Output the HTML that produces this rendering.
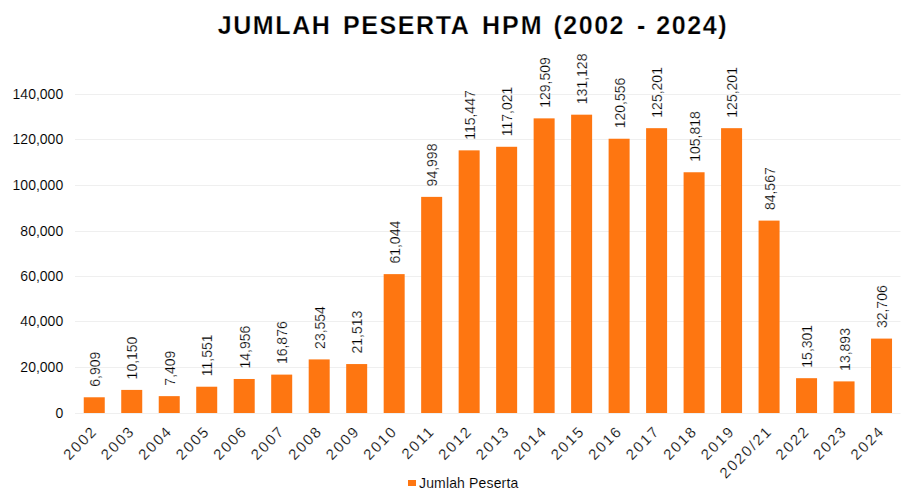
<!DOCTYPE html><html><head><meta charset="utf-8"><style>html,body{margin:0;padding:0;background:#fff;}svg{display:block;}text{font-family:"Liberation Sans",sans-serif;}.h{stroke:#fff;stroke-width:0.1px;}.r{stroke:#fff;stroke-width:0.2px;}.t{stroke:#fff;stroke-width:0.25px;}</style></head><body>
<svg width="919" height="504" viewBox="0 0 919 504">
<rect width="919" height="504" fill="#fff"/>
<line x1="75" x2="900.5" y1="94.50" y2="94.50" stroke="#efefef" stroke-width="1"/>
<line x1="75" x2="900.5" y1="139.50" y2="139.50" stroke="#efefef" stroke-width="1"/>
<line x1="75" x2="900.5" y1="185.50" y2="185.50" stroke="#efefef" stroke-width="1"/>
<line x1="75" x2="900.5" y1="231.50" y2="231.50" stroke="#efefef" stroke-width="1"/>
<line x1="75" x2="900.5" y1="276.50" y2="276.50" stroke="#efefef" stroke-width="1"/>
<line x1="75" x2="900.5" y1="321.50" y2="321.50" stroke="#efefef" stroke-width="1"/>
<line x1="75" x2="900.5" y1="367.50" y2="367.50" stroke="#efefef" stroke-width="1"/>
<line x1="75" x2="900.5" y1="413.50" y2="413.50" stroke="#efefef" stroke-width="1"/>
<text class="h" x="63.2" y="98.60" font-size="14" text-anchor="end" letter-spacing="0" fill="#000">140,000</text>
<text class="h" x="63.2" y="143.60" font-size="14" text-anchor="end" letter-spacing="0" fill="#000">120,000</text>
<text class="h" x="63.2" y="189.60" font-size="14" text-anchor="end" letter-spacing="0" fill="#000">100,000</text>
<text class="h" x="63.2" y="235.60" font-size="14" text-anchor="end" letter-spacing="0" fill="#000">80,000</text>
<text class="h" x="63.2" y="280.60" font-size="14" text-anchor="end" letter-spacing="0" fill="#000">60,000</text>
<text class="h" x="63.2" y="325.60" font-size="14" text-anchor="end" letter-spacing="0" fill="#000">40,000</text>
<text class="h" x="63.2" y="371.60" font-size="14" text-anchor="end" letter-spacing="0" fill="#000">20,000</text>
<text class="h" x="63.2" y="417.60" font-size="14" text-anchor="end" letter-spacing="0" fill="#000">0</text>
<rect x="83.75" y="397.28" width="21.0" height="15.72" fill="#fe7611"/>
<rect x="121.24" y="389.91" width="21.0" height="23.09" fill="#fe7611"/>
<rect x="158.73" y="396.14" width="21.0" height="16.86" fill="#fe7611"/>
<rect x="196.22" y="386.72" width="21.0" height="26.28" fill="#fe7611"/>
<rect x="233.71" y="378.98" width="21.0" height="34.02" fill="#fe7611"/>
<rect x="271.20" y="374.61" width="21.0" height="38.39" fill="#fe7611"/>
<rect x="308.69" y="359.41" width="21.0" height="53.59" fill="#fe7611"/>
<rect x="346.18" y="364.06" width="21.0" height="48.94" fill="#fe7611"/>
<rect x="383.67" y="274.12" width="21.0" height="138.88" fill="#fe7611"/>
<rect x="421.16" y="196.88" width="21.0" height="216.12" fill="#fe7611"/>
<rect x="458.65" y="150.36" width="21.0" height="262.64" fill="#fe7611"/>
<rect x="496.14" y="146.78" width="21.0" height="266.22" fill="#fe7611"/>
<rect x="533.63" y="118.37" width="21.0" height="294.63" fill="#fe7611"/>
<rect x="571.12" y="114.68" width="21.0" height="298.32" fill="#fe7611"/>
<rect x="608.61" y="138.74" width="21.0" height="274.26" fill="#fe7611"/>
<rect x="646.10" y="128.17" width="21.0" height="284.83" fill="#fe7611"/>
<rect x="683.59" y="172.26" width="21.0" height="240.74" fill="#fe7611"/>
<rect x="721.08" y="128.17" width="21.0" height="284.83" fill="#fe7611"/>
<rect x="758.57" y="220.61" width="21.0" height="192.39" fill="#fe7611"/>
<rect x="796.06" y="378.19" width="21.0" height="34.81" fill="#fe7611"/>
<rect x="833.55" y="381.39" width="21.0" height="31.61" fill="#fe7611"/>
<rect x="871.04" y="338.59" width="21.0" height="74.41" fill="#fe7611"/>
<text class="r" transform="translate(99.85,386.78) rotate(-90)" font-size="14" fill="#000">6,909</text>
<text class="r" transform="translate(137.34,379.41) rotate(-90)" font-size="14" fill="#000">10,150</text>
<text class="r" transform="translate(174.83,385.64) rotate(-90)" font-size="14" fill="#000">7,409</text>
<text class="r" transform="translate(212.32,376.22) rotate(-90)" font-size="14" fill="#000">11,551</text>
<text class="r" transform="translate(249.81,368.48) rotate(-90)" font-size="14" fill="#000">14,956</text>
<text class="r" transform="translate(287.30,364.11) rotate(-90)" font-size="14" fill="#000">16,876</text>
<text class="r" transform="translate(324.79,348.91) rotate(-90)" font-size="14" fill="#000">23,554</text>
<text class="r" transform="translate(362.28,353.56) rotate(-90)" font-size="14" fill="#000">21,513</text>
<text class="r" transform="translate(399.77,263.62) rotate(-90)" font-size="14" fill="#000">61,044</text>
<text class="r" transform="translate(437.26,186.38) rotate(-90)" font-size="14" fill="#000">94,998</text>
<text class="r" transform="translate(474.75,139.86) rotate(-90)" font-size="14" fill="#000">115,447</text>
<text class="r" transform="translate(512.24,136.28) rotate(-90)" font-size="14" fill="#000">117,021</text>
<text class="r" transform="translate(549.73,107.87) rotate(-90)" font-size="14" fill="#000">129,509</text>
<text class="r" transform="translate(587.22,104.18) rotate(-90)" font-size="14" fill="#000">131,128</text>
<text class="r" transform="translate(624.71,128.24) rotate(-90)" font-size="14" fill="#000">120,556</text>
<text class="r" transform="translate(662.20,117.67) rotate(-90)" font-size="14" fill="#000">125,201</text>
<text class="r" transform="translate(699.69,161.76) rotate(-90)" font-size="14" fill="#000">105,818</text>
<text class="r" transform="translate(737.18,117.67) rotate(-90)" font-size="14" fill="#000">125,201</text>
<text class="r" transform="translate(774.67,210.11) rotate(-90)" font-size="14" fill="#000">84,567</text>
<text class="r" transform="translate(812.16,367.69) rotate(-90)" font-size="14" fill="#000">15,301</text>
<text class="r" transform="translate(849.65,370.89) rotate(-90)" font-size="14" fill="#000">13,893</text>
<text class="r" transform="translate(887.14,328.09) rotate(-90)" font-size="14" fill="#000">32,706</text>
<text class="r" transform="translate(98.25,432.00) rotate(-45)" font-size="15" text-anchor="end" letter-spacing="1.8" fill="#000">2002</text>
<text class="r" transform="translate(135.74,432.00) rotate(-45)" font-size="15" text-anchor="end" letter-spacing="1.8" fill="#000">2003</text>
<text class="r" transform="translate(173.23,432.00) rotate(-45)" font-size="15" text-anchor="end" letter-spacing="1.8" fill="#000">2004</text>
<text class="r" transform="translate(210.72,432.00) rotate(-45)" font-size="15" text-anchor="end" letter-spacing="1.8" fill="#000">2005</text>
<text class="r" transform="translate(248.21,432.00) rotate(-45)" font-size="15" text-anchor="end" letter-spacing="1.8" fill="#000">2006</text>
<text class="r" transform="translate(285.70,432.00) rotate(-45)" font-size="15" text-anchor="end" letter-spacing="1.8" fill="#000">2007</text>
<text class="r" transform="translate(323.19,432.00) rotate(-45)" font-size="15" text-anchor="end" letter-spacing="1.8" fill="#000">2008</text>
<text class="r" transform="translate(360.68,432.00) rotate(-45)" font-size="15" text-anchor="end" letter-spacing="1.8" fill="#000">2009</text>
<text class="r" transform="translate(398.17,432.00) rotate(-45)" font-size="15" text-anchor="end" letter-spacing="1.8" fill="#000">2010</text>
<text class="r" transform="translate(435.66,432.00) rotate(-45)" font-size="15" text-anchor="end" letter-spacing="1.8" fill="#000">2011</text>
<text class="r" transform="translate(473.15,432.00) rotate(-45)" font-size="15" text-anchor="end" letter-spacing="1.8" fill="#000">2012</text>
<text class="r" transform="translate(510.64,432.00) rotate(-45)" font-size="15" text-anchor="end" letter-spacing="1.8" fill="#000">2013</text>
<text class="r" transform="translate(548.13,432.00) rotate(-45)" font-size="15" text-anchor="end" letter-spacing="1.8" fill="#000">2014</text>
<text class="r" transform="translate(585.62,432.00) rotate(-45)" font-size="15" text-anchor="end" letter-spacing="1.8" fill="#000">2015</text>
<text class="r" transform="translate(623.11,432.00) rotate(-45)" font-size="15" text-anchor="end" letter-spacing="1.8" fill="#000">2016</text>
<text class="r" transform="translate(660.60,432.00) rotate(-45)" font-size="15" text-anchor="end" letter-spacing="1.8" fill="#000">2017</text>
<text class="r" transform="translate(698.09,432.00) rotate(-45)" font-size="15" text-anchor="end" letter-spacing="1.8" fill="#000">2018</text>
<text class="r" transform="translate(735.58,432.00) rotate(-45)" font-size="15" text-anchor="end" letter-spacing="1.8" fill="#000">2019</text>
<text class="r" transform="translate(773.07,432.00) rotate(-45)" font-size="15" text-anchor="end" letter-spacing="1.8" fill="#000">2020/21</text>
<text class="r" transform="translate(810.56,432.00) rotate(-45)" font-size="15" text-anchor="end" letter-spacing="1.8" fill="#000">2022</text>
<text class="r" transform="translate(848.05,432.00) rotate(-45)" font-size="15" text-anchor="end" letter-spacing="1.8" fill="#000">2023</text>
<text class="r" transform="translate(885.54,432.00) rotate(-45)" font-size="15" text-anchor="end" letter-spacing="1.8" fill="#000">2024</text>
<text class="t" x="217.7" y="33.8" font-size="25" font-weight="bold" letter-spacing="1.6" fill="#000">JUMLAH</text>
<text class="t" x="343" y="33.8" font-size="25" font-weight="bold" letter-spacing="1.6" fill="#000">PESERTA</text>
<text class="t" x="482" y="33.8" font-size="25" font-weight="bold" letter-spacing="2.0" fill="#000">HPM</text>
<text class="t" x="553.5" y="33.8" font-size="25" font-weight="bold" letter-spacing="1.5" fill="#000">(2002</text>
<text class="t" x="637" y="33.8" font-size="25" font-weight="bold" letter-spacing="1.6" fill="#000">-</text>
<text class="t" x="656.2" y="33.8" font-size="25" font-weight="bold" letter-spacing="1.6" fill="#000">2024)</text>
<rect x="408" y="480" width="8" height="6" fill="#fe7611"/>
<text class="h" x="419" y="487.7" font-size="14" letter-spacing="0.15" fill="#000">Jumlah Peserta</text>
</svg></body></html>
